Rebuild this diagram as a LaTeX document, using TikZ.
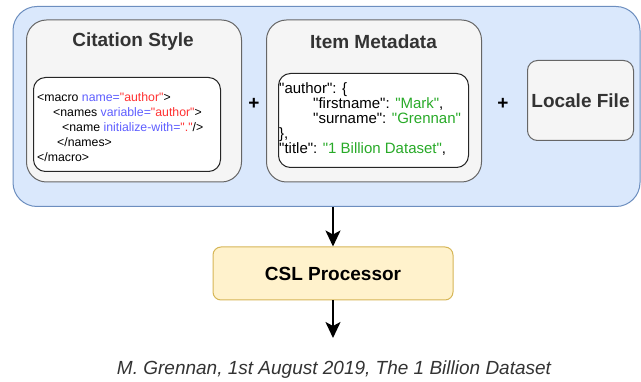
\documentclass[tikz,border=0pt]{standalone}
\usepackage{fontspec}
\setmainfont{Liberation Sans}
\newfontfamily\codefont{Liberation Sans}[Ligatures=TeXOff]
\usetikzlibrary{arrows.meta}
\definecolor{groupfill}{HTML}{DAE8FC}
\definecolor{groupline}{HTML}{6C8EBF}
\definecolor{partfill}{HTML}{F5F5F5}
\definecolor{partline}{HTML}{666666}
\definecolor{parttext}{HTML}{333333}
\definecolor{procfill}{HTML}{FFF2CC}
\definecolor{procline}{HTML}{D6B656}
\definecolor{xmlattr}{RGB}{95,95,255}
\definecolor{xmlval}{RGB}{255,50,50}
\definecolor{jsonval}{RGB}{40,170,40}
\newcommand{\xattr}[1]{\textcolor{xmlattr}{#1}}
\newcommand{\xval}[1]{\textcolor{xmlval}{#1}}
\newcommand{\jval}[1]{\textcolor{jsonval}{#1}}
\tikzset{
  groupbox/.style={draw=groupline, fill=groupfill, rounded corners=24pt, line width=1pt, anchor=north west},
  partbox/.style={draw=partline, fill=partfill, rounded corners=20pt, line width=1pt, anchor=north west},
  codebox/.style={draw=black!85, fill=white, rounded corners=12pt, line width=1pt, anchor=north west},
  procbox/.style={draw=procline, fill=procfill, rounded corners=8pt, line width=1pt,
    font=\fontsize{19}{23}\selectfont\bfseries},
  title/.style={font=\fontsize{19}{23}\selectfont\bfseries, text=parttext},
  xmlcode/.style={font=\codefont\fontsize{12.3}{15}\selectfont, align=left, anchor=west, inner sep=0pt},
  jsoncode/.style={font=\codefont\fontsize{15}{15.2}\selectfont, align=left, anchor=west, inner sep=0pt},
  flow/.style={line width=2pt, -{Stealth[length=16pt,width=15pt,inset=4pt]}}
}
\begin{document}
\begin{tikzpicture}[x=1pt,y=-1pt]
    \useasboundingbox (0,0) rectangle (641,382);
    \node[groupbox, minimum width=627pt, minimum height=200pt] (inputs) at (12.5,6) {};
    \begin{scope}
      \node[partbox, minimum width=215pt, minimum height=162pt] (style) at (26,19.5) {};
      \node[title] (styletitle) at (133,42) {Citation Style};
      \node[codebox, minimum width=187pt, minimum height=94pt] (stylecode) at (33,77) {};
      \node[xmlcode] (stylexml) at (37,127) {<macro \xattr{name=}\xval{"author"}>\\
        \hspace*{16pt}<names \xattr{variable=}\xval{"author"}>\\
        \hspace*{25pt}<name \xattr{initialize-with=}\xval{"."}/>\\
        \hspace*{20pt}</names>\\
        </macro>};
    \end{scope}
    \node[title, text=black] (plusa) at (254,104) {+};
    \begin{scope}
      \node[partbox, minimum width=215pt, minimum height=162pt] (meta) at (266,19.5) {};
      \node[title] (metatitle) at (373.5,42) {Item Metadata};
      \node[codebox, minimum width=190pt, minimum height=94pt] (metacode) at (278,73) {};
      \node[jsoncode] (metajson) at (279,119) {"author": \{\\
        \hspace*{34pt}"firstname": \jval{"Mark"},\\
        \hspace*{34pt}"surname": \jval{"Grennan"}\\
        \},\\
        "title": \jval{"1 Billion Dataset"},};
    \end{scope}
    \node[title, text=black] (plusb) at (503,104) {+};
    \node[partbox, title, rounded corners=10pt, inner sep=2pt, minimum width=106pt, minimum height=80pt] (locale) at (527,60) {Locale File};
    \node[procbox, minimum width=240pt, minimum height=53pt] (csl) at (333,273.5) {CSL Processor};
    \coordinate (result) at (333,338);
    \node[font=\fontsize{19}{23}\selectfont\itshape, text=parttext] (citation) at (334,370) {M. Grennan, 1st August 2019, The 1 Billion Dataset};
    \draw[flow] (inputs.south -| csl.north) -- (csl.north);
    \draw[flow] (csl.south) -- (result);
  \end{tikzpicture}
\end{document}
